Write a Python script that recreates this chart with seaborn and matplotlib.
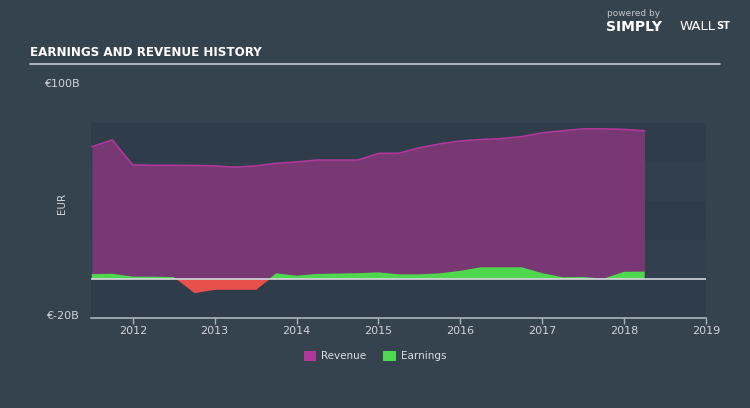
import matplotlib
matplotlib.use("Agg")
import matplotlib.pyplot as plt
from matplotlib.patches import Patch
import seaborn as sns
import numpy as np
import pandas as pd

# ---- data (EUR billions), quarterly ----
dates = [2011.5, 2011.75, 2012.0, 2012.25, 2012.5, 2012.75, 2013.0, 2013.25,
         2013.5, 2013.75, 2014.0, 2014.25, 2014.5, 2014.75, 2015.0, 2015.25,
         2015.5, 2015.75, 2016.0, 2016.25, 2016.5, 2016.75, 2017.0, 2017.25,
         2017.5, 2017.75, 2018.0, 2018.25]
revenue = [67.8, 71.3, 58.5, 58.3, 58.3, 58.2, 58.0, 57.3, 58.0, 59.3, 60.0,
           61.0, 61.0, 61.0, 64.4, 64.5, 67.3, 69.3, 70.8, 71.5, 72.0, 73.0,
           75.0, 76.0, 77.0, 77.0, 76.7, 76.0]
earnings = [2.5, 2.7, 1.2, 1.2, 1.0, -7.0, -5.3, -5.3, -5.3, 2.9, 1.7, 2.6,
            2.8, 3.0, 3.4, 2.4, 2.4, 2.9, 4.2, 6.0, 6.0, 6.0, 3.0, 0.9, 1.0,
            0.2, 3.7, 3.8]
year_ticks = [2012, 2013, 2014, 2015, 2016, 2017, 2018, 2019]
y_labels = ["€100B", "€-20B"]

df = pd.DataFrame({"date": dates, "Revenue": revenue, "Earnings": earnings})

BG = "#35434f"
sns.set_theme(style="dark")
plt.rcParams["font.family"] = ["DejaVu Sans"]

fig = plt.figure(figsize=(7.5, 4.08), dpi=100, facecolor=BG)
ax = fig.add_axes([91/750, 1-318/408, 615/750, 234/408])
ax.set_facecolor("none")

# background bands
for i, lo in enumerate(range(-20, 80, 20)):
    ax.axhspan(lo, lo + 20, color="#2f3c49" if i % 2 == 0 else "#323f4c",
               lw=0, zorder=0)

x = np.array(dates)
rev = np.array(revenue)
ear = np.array(earnings)

ax.fill_between(x, 0, rev, color="#773873", lw=0, zorder=1)
sns.lineplot(data=df, x="date", y="Revenue", ax=ax, color="#b0389b", lw=1.2,
             zorder=2, legend=False)
ax.fill_between(x, 0, ear, where=ear >= 0, interpolate=True, color="#4fd84f",
                lw=0, zorder=3)
ax.fill_between(x, 0, ear, where=ear <= 0, interpolate=True, color="#e8504e",
                lw=0, zorder=3)

ax.axhline(0, color="#d4d8dc", lw=1.2, zorder=4)

ax.set_xlim(2011.49, 2019.0)
ax.set_ylim(-20, 100)
ax.set_xticks(year_ticks)
ax.set_xticklabels([str(y) for y in year_ticks], color="#d0d4d8", fontsize=8)
ax.set_yticks([])
ax.set_xlabel("")
ax.set_ylabel("")
ax.tick_params(axis="x", colors="#aab4bd", length=4, width=1, pad=2,
               labelcolor="#d0d4d8", bottom=True, direction="out")
for s in ["top", "right", "left"]:
    ax.spines[s].set_visible(False)
ax.spines["bottom"].set_color("#aab4bd")
ax.spines["bottom"].set_linewidth(1.2)

# y labels
fig.text(80/750, 1-84/408, y_labels[0], color="#d0d4d8", fontsize=8,
         ha="right", va="center")
fig.text(79/750, 1-316/408, y_labels[1], color="#d0d4d8", fontsize=8,
         ha="right", va="center")
fig.text(62/750, 1-203/408, "EUR", color="#d0d4d8", fontsize=7.5,
         rotation=90, ha="center", va="center")

# title
fig.text(30/750, 1-53/408, "EARNINGS AND REVENUE HISTORY", color="white",
         fontsize=9.5, fontweight="bold", fontstretch="condensed",
         family=["DejaVu Sans"], ha="left", va="center")
fig.add_artist(plt.Line2D([30/750, 720/750], [1-64/408, 1-64/408],
                          color="#c4cad0", lw=1.2, transform=fig.transFigure))

# logo text
fig.text(607/750, 1-14/408, "powered by", color="#c0c6cc", fontsize=6.5,
         ha="left", va="center")
fig.text(606/750, 1-27/408, "SIMPLY", color="white", fontsize=10,
         fontweight="bold", ha="left", va="center")
fig.text(680/750, 1-27/408, "WALL", color="white", fontsize=9.5,
         ha="left", va="center")
fig.text(716/750, 1-26/408, "ST", color="white", fontsize=7,
         fontweight="bold", ha="left", va="center")

# legend
handles = [Patch(facecolor="#b0389b", edgecolor="none", label="Revenue"),
           Patch(facecolor="#4fd84f", edgecolor="none", label="Earnings")]
leg = fig.legend(handles=handles, loc="center", bbox_to_anchor=(375/750, 1-356/408),
                 ncol=2, frameon=False, fontsize=7.5, handlelength=1.2,
                 handleheight=1.2, columnspacing=1.6, handletextpad=0.5)
for t in leg.get_texts():
    t.set_color("#d8dce0")

fig.savefig("out.png", dpi=100, facecolor=BG)
